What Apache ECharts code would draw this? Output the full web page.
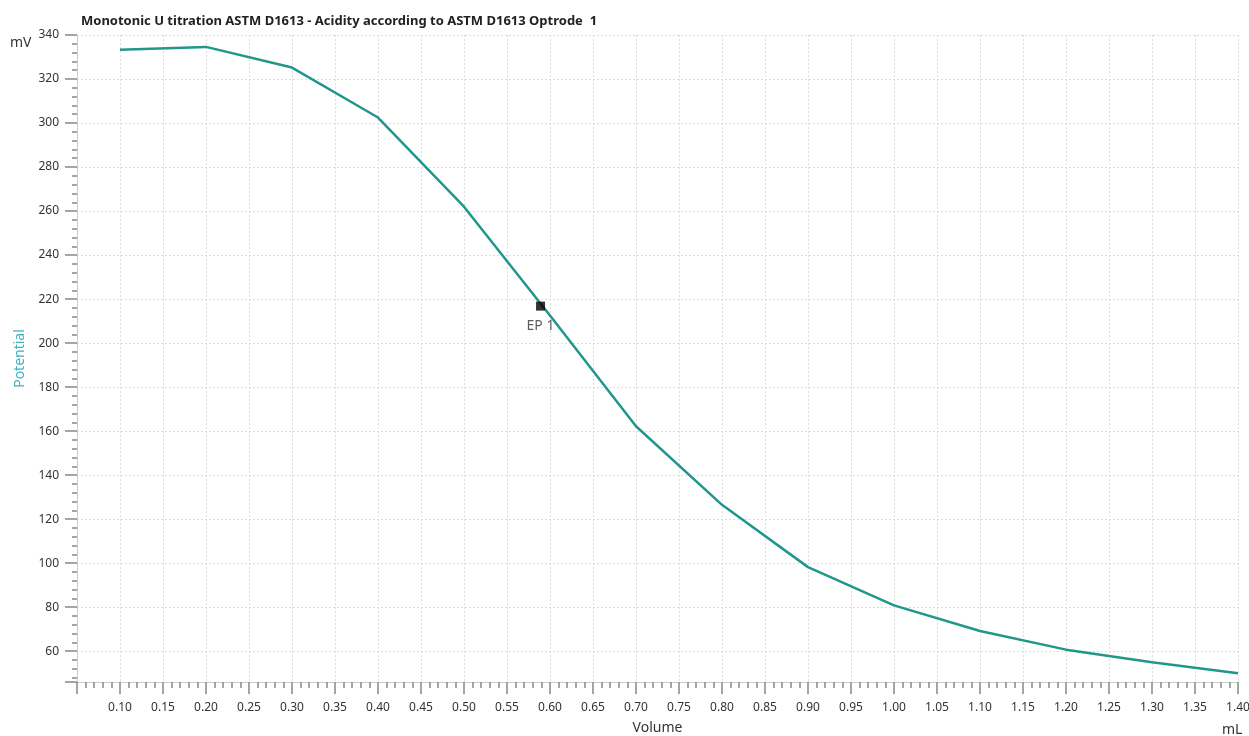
<!DOCTYPE html>
<html><head><meta charset="utf-8">
<script src="https://cdn.jsdelivr.net/npm/echarts@6/dist/echarts.min.js"></script>
<style>html,body{margin:0;padding:0;background:#fff}#c{width:1249px;height:736px}</style>
</head><body><div id="c"></div>
<script>
const volumes = [0.10, 0.20, 0.30, 0.40, 0.50, 0.60, 0.70, 0.80, 0.90, 1.00, 1.10, 1.20, 1.30, 1.40];
const potentials = [333.3, 334.6, 325.2, 302.5, 262.0, 212.5, 162.2, 126.5, 98.2, 80.8, 69.2, 60.7, 55.0, 50.0];
const endpointVolume = [0.589];
const endpointPotential = [216.8];
const endpointLabels = ['EP 1'];

const chart = echarts.init(document.getElementById('c'));
const FONT = '"Noto Sans", "Open Sans", sans-serif';
chart.setOption({
  animation: false,
  title: {text: 'Monotonic U titration ASTM D1613 - Acidity according to ASTM D1613 Optrode  1', left: 76, top: 10,
    textStyle: {fontSize: 13, fontWeight: 'bold', color: '#222', fontFamily: FONT}},
  grid: {left: 77, right: 11, top: 35, bottom: 54, show: false, containLabel: false, outerBoundsMode: 'none'},
  xAxis: {type: 'value', min: 0.05, max: 1.40, interval: 0.05,
    name: 'Volume', nameLocation: 'middle', nameGap: 39,
    nameTextStyle: {fontSize: 14, color: '#333', fontFamily: FONT},
    axisLine: {show: true, lineStyle: {color: '#ccc'}},
    axisTick: {show: true, length: 12, inside: false, lineStyle: {color: '#888', width: 1.5}},
    minorTick: {show: true, splitNumber: 5, length: 6, lineStyle: {color: '#888', width: 1.5}},
    axisLabel: {showMinLabel: false, margin: 20, fontSize: 12, color: '#333', fontFamily: FONT,
      formatter: v => v.toFixed(2)},
    splitLine: {show: true, lineStyle: {color: '#ddd', type: [2, 2]}}},
  yAxis: {type: 'value', min: 46, max: 340, splitNumber: 14, minInterval: 20, maxInterval: 20,
    name: 'Potential', nameLocation: 'middle', nameGap: 48,
    nameTextStyle: {fontSize: 14, color: '#3fb3bf', fontFamily: FONT},
    axisLine: {show: true, lineStyle: {color: '#ccc'}},
    axisTick: {show: true, length: 12, lineStyle: {color: '#888', width: 1.5}},
    minorTick: {show: true, splitNumber: 5, length: 5, lineStyle: {color: '#888', width: 1.5}},
    axisLabel: {showMinLabel: false, margin: 18, fontSize: 12, color: '#333', fontFamily: FONT},
    splitLine: {show: true, lineStyle: {color: '#ddd', type: [2, 2]}}},
  graphic: [
    {type: 'text', left: 10, top: 36, style: {text: 'mV', fontSize: 14, fill: '#333', fontFamily: FONT}},
    {type: 'text', left: 1222, top: 723, style: {text: 'mL', fontSize: 14, fill: '#333', fontFamily: FONT}}
  ],
  series: [
    {type: 'line', data: volumes.map((v, i) => [v, potentials[i]]), showSymbol: false,
      lineStyle: {color: '#21978b', width: 2.5}, z: 2},
    {type: 'scatter', data: endpointVolume.map((v, i) => ({value: [v, endpointPotential[i]], name: endpointLabels[i]})),
      symbol: 'rect', symbolSize: 9, itemStyle: {color: '#000'}, z: 3,
      label: {show: true, position: 'bottom', distance: 8, formatter: p => p.name, fontSize: 14, color: '#333', fontFamily: FONT}}
  ]
});
</script></body></html>
